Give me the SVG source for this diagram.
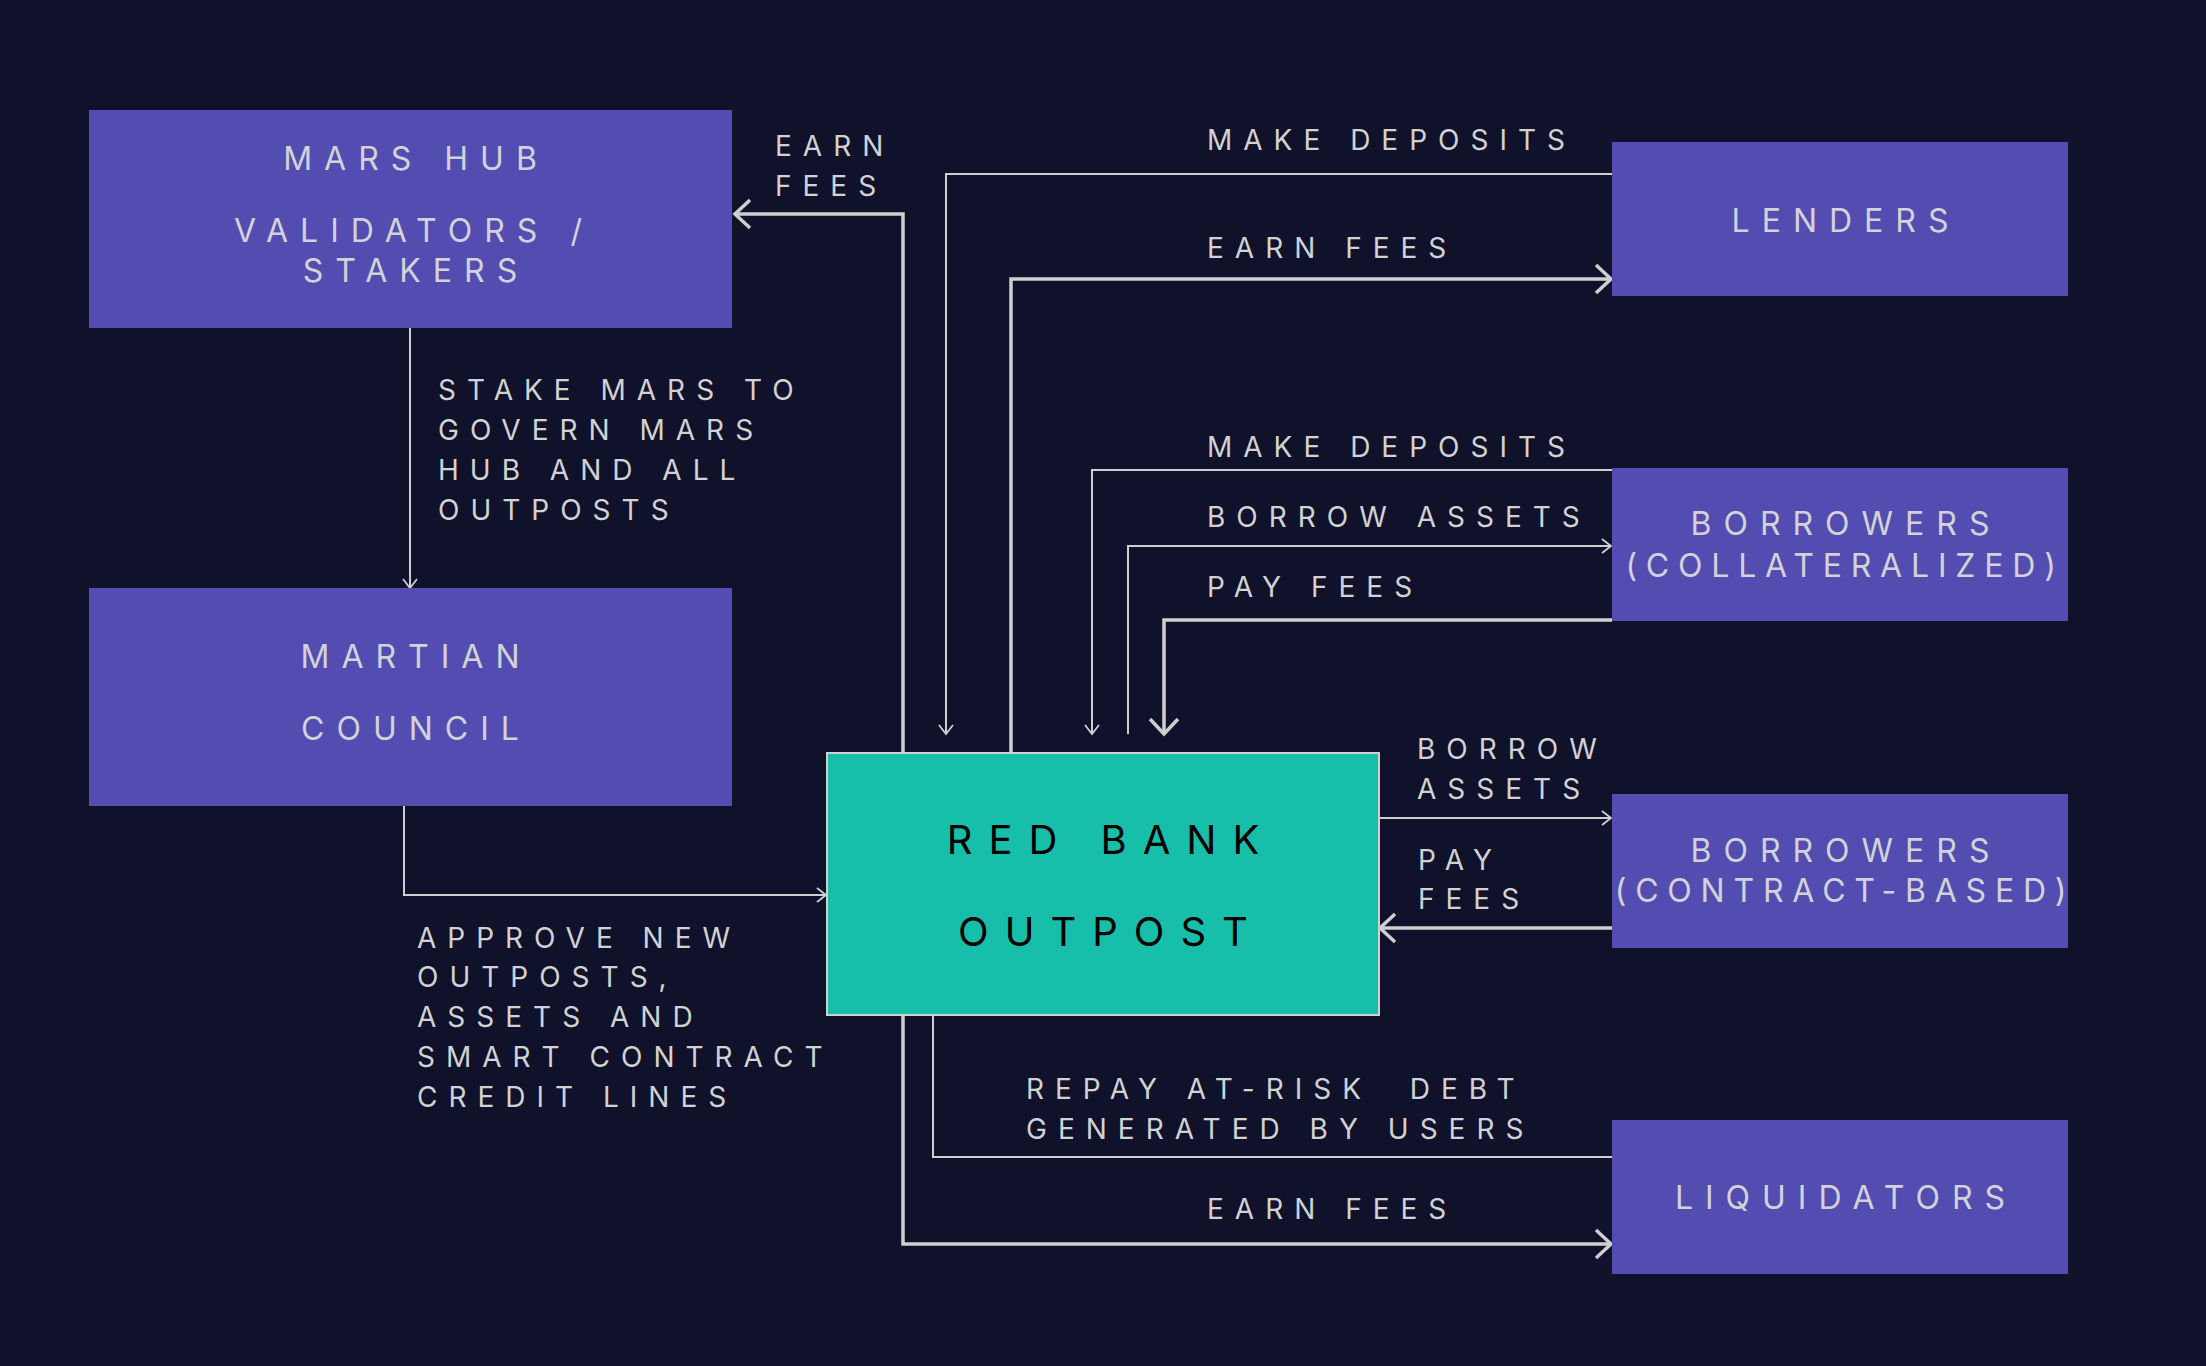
<svg xmlns="http://www.w3.org/2000/svg" width="2206" height="1366" viewBox="0 0 2206 1366">
<style>
.bg{fill:#10112a}
.node{fill:#534db1}
.rb{fill:#17bfab;stroke:#d0d0d0;stroke-width:2}
.nt{font-family:Inter,"Liberation Sans",sans-serif;font-size:32px;letter-spacing:12px;fill:#d2d2d8;text-anchor:middle}
.nn{letter-spacing:8.8px}
.rt{font-family:Inter,"Liberation Sans",sans-serif;font-size:40px;letter-spacing:16px;fill:#000;text-anchor:middle}
.lb{font-family:Inter,"Liberation Sans",sans-serif;font-size:28px;letter-spacing:11px;fill:#d2d2d2;white-space:pre}
.thin{fill:none;stroke:#cfcfcf;stroke-width:2}
.thick{fill:none;stroke:#cfcfcf;stroke-width:3.5}
</style>
<defs>
<marker id="aThin" markerUnits="userSpaceOnUse" markerWidth="14" markerHeight="18" refX="10" refY="8" orient="auto">
<path d="M1,1 L10,8 L1,15" fill="none" stroke="#cfcfcf" stroke-width="1.8"/>
</marker>
<marker id="aThick" markerUnits="userSpaceOnUse" markerWidth="22" markerHeight="34" refX="17" refY="16" orient="auto">
<path d="M2,2 L17,16 L2,30" fill="none" stroke="#cfcfcf" stroke-width="3.5"/>
</marker>
</defs>
<rect class="bg" x="0" y="0" width="2206" height="1366"/>

<g id="connectors">
<path class="thin" d="M410,328 V588" marker-end="url(#aThin)"/>
<path class="thin" d="M404,806 V895 H826" marker-end="url(#aThin)"/>
<path class="thick" d="M903,753 V214 H735" marker-end="url(#aThick)"/>
<path class="thin" d="M1612,174 H946 V734" marker-end="url(#aThin)"/>
<path class="thick" d="M1011,752 V279 H1611" marker-end="url(#aThick)"/>
<path class="thin" d="M1612,470 H1092 V734" marker-end="url(#aThin)"/>
<path class="thin" d="M1128,734 V546 H1611" marker-end="url(#aThin)"/>
<path class="thick" d="M1612,620 H1164 V734" marker-end="url(#aThick)"/>
<path class="thin" d="M1379,818 H1611" marker-end="url(#aThin)"/>
<path class="thick" d="M1612,928 H1380" marker-end="url(#aThick)"/>
<path class="thin" d="M933,1015 V1157 H1612"/>
<path class="thick" d="M903,1015 V1244 H1611" marker-end="url(#aThick)"/>
</g>

<g id="labels">
<text class="lb" x="775" y="156">EARN</text>
<text class="lb" x="775" y="196">FEES</text>
<text class="lb" x="1207" y="150">MAKE DEPOSITS</text>
<text class="lb" x="1207" y="258">EARN FEES</text>
<text class="lb" x="1207" y="457">MAKE DEPOSITS</text>
<text class="lb" x="1207" y="527">BORROW ASSETS</text>
<text class="lb" x="1207" y="597">PAY FEES</text>
<text class="lb" x="1417" y="759">BORROW</text>
<text class="lb" x="1417" y="799">ASSETS</text>
<text class="lb" x="1418" y="870">PAY</text>
<text class="lb" x="1418" y="909">FEES</text>
<text class="lb" x="1026" y="1099">REPAY AT-RISK  DEBT</text>
<text class="lb" x="1026" y="1139">GENERATED BY USERS</text>
<text class="lb" x="1207" y="1219">EARN FEES</text>
<text class="lb" x="438" y="400">STAKE MARS TO</text>
<text class="lb" x="438" y="440">GOVERN MARS</text>
<text class="lb" x="438" y="480">HUB AND ALL</text>
<text class="lb" x="438" y="520">OUTPOSTS</text>
<text class="lb" x="417" y="948">APPROVE NEW</text>
<text class="lb" x="417" y="987">OUTPOSTS,</text>
<text class="lb" x="417" y="1027">ASSETS AND</text>
<text class="lb" x="417" y="1067">SMART CONTRACT</text>
<text class="lb" x="417" y="1107">CREDIT LINES</text>
</g>

<g id="mars-hub">
<rect class="node" x="89" y="110" width="643" height="218"/>
<text class="nt" x="416" y="170">MARS HUB</text>
<text class="nt" x="414" y="242">VALIDATORS /</text>
<text class="nt" x="416" y="282">STAKERS</text>
</g>
<g id="martian-council">
<rect class="node" x="89" y="588" width="643" height="218"/>
<text class="nt" x="416" y="668">MARTIAN</text>
<text class="nt" x="416" y="740">COUNCIL</text>
</g>
<g id="lenders">
<rect class="node" x="1612" y="142" width="456" height="154"/>
<text class="nt" x="1846" y="232">LENDERS</text>
</g>
<g id="borrowers-collateralized">
<rect class="node" x="1612" y="468" width="456" height="153"/>
<text class="nt" x="1846" y="535">BORROWERS</text>
<text class="nt nn" x="1845" y="577">(COLLATERALIZED)</text>
</g>
<g id="borrowers-contract">
<rect class="node" x="1612" y="794" width="456" height="154"/>
<text class="nt" x="1846" y="862">BORROWERS</text>
<text class="nt nn" x="1845" y="902">(CONTRACT-BASED)</text>
</g>
<g id="liquidators">
<rect class="node" x="1612" y="1120" width="456" height="154"/>
<text class="nt" x="1846" y="1209">LIQUIDATORS</text>
</g>
<g id="red-bank">
<rect class="rb" x="827" y="753" width="552" height="262"/>
<text class="rt" x="1111" y="854">RED BANK</text>
<text class="rt" x="1111" y="946">OUTPOST</text>
</g>
</svg>
